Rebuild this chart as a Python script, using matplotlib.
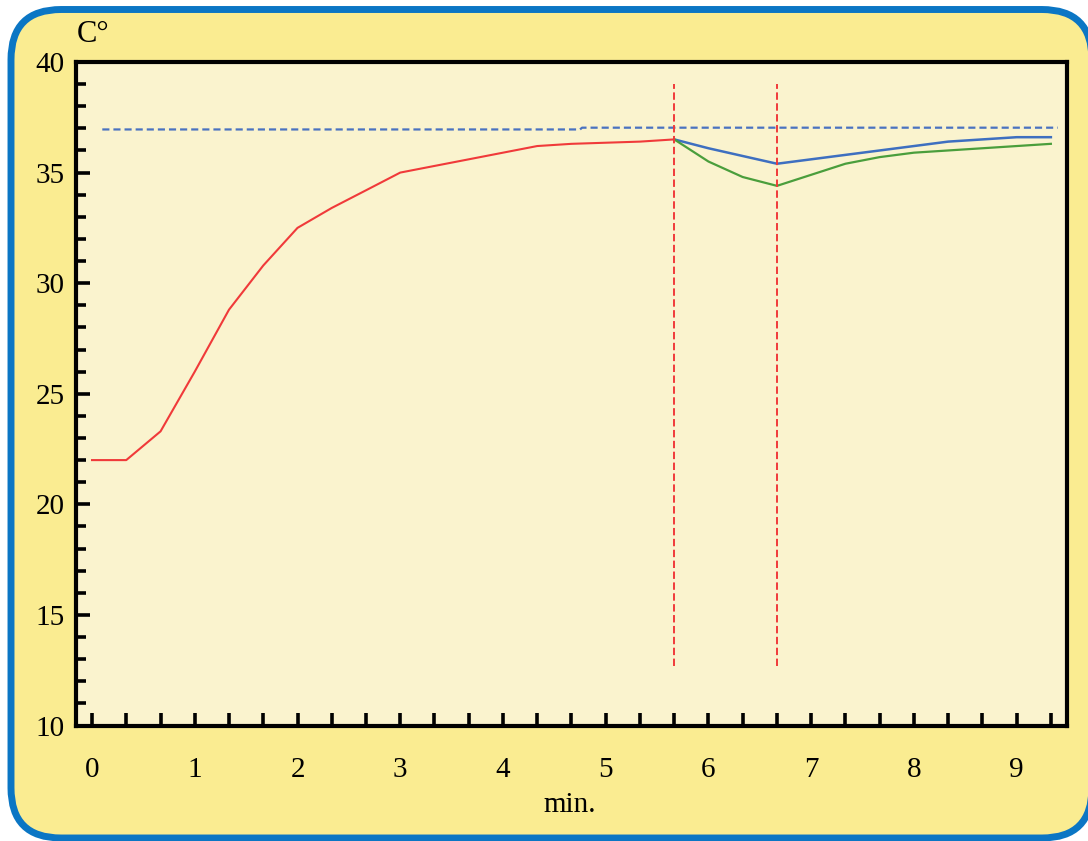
import matplotlib
matplotlib.use("Agg")
import matplotlib.pyplot as plt
from matplotlib.patches import FancyBboxPatch
from matplotlib.ticker import MultipleLocator

# Heating curve (red), then two cooling/recovery runs (blue, green)
heat_t = [0.0, 0.333, 0.667, 1.0, 1.333, 1.667, 2.0, 2.333, 2.667, 3.0,
          3.333, 3.667, 4.0, 4.333, 4.667, 5.0, 5.333, 5.667]
heat_c = [22.0, 22.0, 23.3, 26.0, 28.8, 30.8, 32.5, 33.4, 34.2, 35.0,
          35.3, 35.6, 35.9, 36.2, 36.3, 36.35, 36.4, 36.5]

blue_t = [5.667, 6.0, 6.333, 6.667, 7.0, 7.333, 7.667, 8.0, 8.333, 8.667, 9.0, 9.333]
blue_c = [36.5, 36.1, 35.75, 35.4, 35.6, 35.8, 36.0, 36.2, 36.4, 36.5, 36.6, 36.6]

green_t = [5.667, 6.0, 6.333, 6.667, 7.0, 7.333, 7.667, 8.0, 8.333, 8.667, 9.0, 9.333]
green_c = [36.5, 35.5, 34.8, 34.4, 34.9, 35.4, 35.7, 35.9, 36.0, 36.1, 36.2, 36.3]

# Reference body temperature (dashed)
ref_t = [0.1, 4.75, 4.77, 9.4]
ref_c = [36.95, 36.95, 37.03, 37.03]

# Event markers
event_t = [5.667, 6.667]
event_lo, event_hi = 12.7, 39.0

x_labels = ["0", "1", "2", "3", "4", "5", "6", "7", "8", "9"]
y_labels = ["10", "15", "20", "25", "30", "35", "40"]

W, H, DPI = 1088, 841, 100
fig = plt.figure(figsize=(W / DPI, H / DPI), dpi=DPI)
fig.patch.set_facecolor("white")

# Rounded yellow panel with a blue border, kept behind the axes
x0, y0, x1, y1 = 11, 9.5, 1092, 838
panel = FancyBboxPatch((x0 / W, (H - y1) / H), (x1 - x0) / W, (y1 - y0) / H,
                       boxstyle="round,pad=0,rounding_size=0.046",
                       transform=fig.transFigure, facecolor="#FAEC91",
                       edgecolor="#0B76C4", linewidth=5, mutation_aspect=W / H,
                       zorder=-10)
fig.patches.append(panel)

ax = fig.add_axes([76 / W, (H - 725.5) / H, (1067 - 76) / W, (725.5 - 62) / H])
ax.set_zorder(1)
ax.set_facecolor("#FAF3CE")

serif = "Liberation Serif"
ax.plot(ref_t, ref_c, color="#4A72C0", lw=1.6, ls=(0, (3.2, 1.8)))
ax.plot(heat_t, heat_c, color="#F03A3A", lw=1.5)
ax.plot(blue_t, blue_c, color="#3E6FC0", lw=1.8)
ax.plot(green_t, green_c, color="#4A9E3C", lw=1.6)
for t in event_t:
    ax.plot([t, t], [event_lo, event_hi], color="#F03A3A", lw=1.4, ls=(0, (3.8, 1.8)))

ax.set_xlim(-0.156, 9.49)
ax.set_ylim(10, 40)

ax.set_xticks(range(len(x_labels)))
ax.set_xticklabels(x_labels)
ax.xaxis.set_minor_locator(MultipleLocator(1 / 3))
ax.set_yticks([int(v) for v in y_labels])
ax.set_yticklabels(y_labels)
ax.yaxis.set_minor_locator(MultipleLocator(1))

for s in ax.spines.values():
    s.set_linewidth(3)
    s.set_color("black")

ax.tick_params(axis="x", which="both", direction="in", length=9.5, width=2.6,
               top=False, pad=23, labelsize=21)
ax.tick_params(axis="y", which="major", direction="in", length=10, width=2.6,
               right=False, pad=8, labelsize=21)
ax.tick_params(axis="y", which="minor", direction="in", length=7, width=2.6, right=False)
for lab in ax.get_xticklabels() + ax.get_yticklabels():
    lab.set_fontfamily(serif)

fig.text(77 / W, 1 - 35 / H, "C°", fontsize=22, fontfamily=serif, va="center", ha="left")
fig.text(570 / W, 1 - 805 / H, "min.", fontsize=21, fontfamily=serif, va="center", ha="center")

fig.savefig("out.png", dpi=DPI)
